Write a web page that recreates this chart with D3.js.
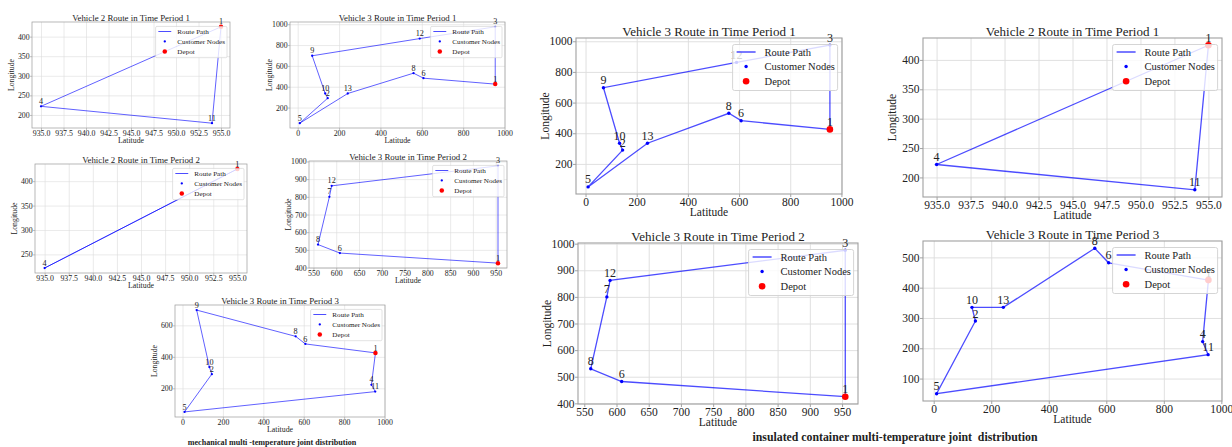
<!DOCTYPE html>
<html>
<head>
<meta charset="utf-8">
<script src="https://cdn.jsdelivr.net/npm/d3@7"></script>
<style>
body { margin: 0; background: #fff; }
svg text { font-family: "Liberation Serif", "Times New Roman", serif; fill: #222; }
</style>
</head>
<body>
<div id="chart"></div>
<script>
// customer / depot coordinates, same for every plot
var nodeIds = [1, 2, 3, 4, 5, 6, 7, 8, 9, 10, 11, 12, 13];
var nodeLat = [955, 145, 955, 935, 10, 608, 585, 560, 70, 133, 954, 590, 242];
var nodeLng = [425, 290, 975, 222, 50, 482, 800, 530, 697, 335, 179, 862, 335];
var depotId = 1;

// routes (node order)
var routeV2P1 = [1, 4, 11, 1];
var routeV3P1 = [1, 3, 12, 9, 10, 2, 5, 13, 8, 6, 1];
var routeV2P2 = [1, 4, 1];
var routeV3P2 = [1, 3, 12, 7, 8, 6, 1];
var routeV3P3mech = [1, 6, 8, 9, 10, 2, 5, 11, 4, 1];
var routeV3P3ins = [1, 6, 8, 13, 10, 2, 5, 11, 4, 1];

// tick values
var latTicksV2 = [935, 937.5, 940, 942.5, 945, 947.5, 950, 952.5, 955];
var latTicksFull = [0, 200, 400, 600, 800, 1000];
var latTicksV3P2 = [550, 600, 650, 700, 750, 800, 850, 900, 950];
var lngTicksV2P1 = [200, 250, 300, 350, 400];
var lngTicksV2P2 = [250, 300, 350, 400];
var lngTicksV3P1 = [200, 400, 600, 800, 1000];
var lngTicksV3P2 = [400, 500, 600, 700, 800, 900, 1000];
var lngTicksV3P3m = [200, 400, 600];
var lngTicksV3P3i = [100, 200, 300, 400, 500];

var legendLabels = ["Route Path", "Customer Nodes", "Depot"];
var captionLeft = "mechanical multi -temperature joint distribution";
var captionRight = "insulated container multi-temperature joint  distribution";

var width = 1232, height = 447;
var serif = '"Liberation Serif", "Times New Roman", serif';

var svg = d3.select("#chart").append("svg")
    .attr("width", width)
    .attr("height", height);

var small = 0.68;

var panels = [
  {title: "Vehicle 2 Route in Time Period 1", route: routeV2P1, xt: latTicksV2, yt: lngTicksV2P1, dec: true,  l: 32,  t: 22,  r: 230,  b: 128, k: small},
  {title: "Vehicle 3 Route in Time Period 1", route: routeV3P1, xt: latTicksFull, yt: lngTicksV3P1, dec: false, l: 290, t: 22,  r: 505,  b: 128, k: small},
  {title: "Vehicle 2 Route in Time Period 2", route: routeV2P2, xt: latTicksV2, yt: lngTicksV2P2, dec: true,  l: 35,  t: 164, r: 247,  b: 273, k: small},
  {title: "Vehicle 3 Route in Time Period 2", route: routeV3P2, xt: latTicksV3P2, yt: lngTicksV3P2, dec: false, l: 309, t: 161, r: 507,  b: 268, k: small},
  {title: "Vehicle 3 Route in Time Period 3", route: routeV3P3mech, xt: latTicksFull, yt: lngTicksV3P3m, dec: false, l: 175, t: 305, r: 385,  b: 417, k: small},
  {title: "Vehicle 3 Route in Time Period 1", route: routeV3P1, xt: latTicksFull, yt: lngTicksV3P1, dec: false, l: 576, t: 38,  r: 842,  b: 194, k: 1},
  {title: "Vehicle 2 Route in Time Period 1", route: routeV2P1, xt: latTicksV2, yt: lngTicksV2P1, dec: true,  l: 923, t: 38,  r: 1222, b: 197, k: 1},
  {title: "Vehicle 3 Route in Time Period 2", route: routeV3P2, xt: latTicksV3P2, yt: lngTicksV3P2, dec: false, l: 578, t: 243, r: 858,  b: 404, k: 1},
  {title: "Vehicle 3 Route in Time Period 3", route: routeV3P3ins, xt: latTicksFull, yt: lngTicksV3P3i, dec: false, l: 923, t: 241, r: 1222, b: 401, k: 1, clipY: true}
];

svg.append("defs").append("clipPath").attr("id", "ylabClip")
   .append("rect").attr("x", 894).attr("y", 0).attr("width", 100).attr("height", height);

function node(id) {
  var i = nodeIds.indexOf(id);
  return {id: id, lat: nodeLat[i], lng: nodeLng[i]};
}

// matplotlib-like 5% margins
function padded(vals) {
  var e = d3.extent(vals), m = (e[1] - e[0]) * 0.05;
  return [e[0] - m, e[1] + m];
}

panels.forEach(function(p) {
  var k = p.k;
  var pts = p.route.map(node);
  var x = d3.scaleLinear().domain(padded(pts.map(function(d) { return d.lat; }))).range([p.l, p.r]);
  var y = d3.scaleLinear().domain(padded(pts.map(function(d) { return d.lng; }))).range([p.b, p.t]);
  var g = svg.append("g");
  var xfmt = p.dec ? d3.format(".1f") : d3.format("d");
  var yfmt = d3.format("d");

  // grid
  g.append("g").attr("transform", "translate(0," + p.b + ")")
   .call(d3.axisBottom(x).tickValues(p.xt).tickSize(-(p.b - p.t)).tickFormat(""))
   .call(function(s) { s.select(".domain").remove(); s.selectAll("line").attr("stroke", "#dcdcdc").attr("stroke-width", 0.9 * k); });
  g.append("g").attr("transform", "translate(" + p.l + ",0)")
   .call(d3.axisLeft(y).tickValues(p.yt).tickSize(-(p.r - p.l)).tickFormat(""))
   .call(function(s) { s.select(".domain").remove(); s.selectAll("line").attr("stroke", "#dcdcdc").attr("stroke-width", 0.9 * k); });

  // axes
  var xa = g.append("g").attr("transform", "translate(0," + p.b + ")")
   .call(d3.axisBottom(x).tickValues(p.xt).tickSizeInner(3 * k).tickSizeOuter(0).tickPadding(0.5 * k).tickFormat(xfmt));
  var ya = g.append("g").attr("transform", "translate(" + p.l + ",0)")
   .call(d3.axisLeft(y).tickValues(p.yt).tickSizeInner(3 * k).tickSizeOuter(0).tickPadding(0.5 * k).tickFormat(yfmt));
  [xa, ya].forEach(function(a) {
    a.attr("font-family", serif).attr("font-size", 11.5 * k);
    a.select(".domain").remove();
    a.selectAll("line").attr("stroke", "#999").attr("stroke-width", 0.9 * k);
    a.selectAll("text").attr("fill", "#222");
  });

  g.append("rect")
   .attr("x", p.l).attr("y", p.t)
   .attr("width", p.r - p.l).attr("height", p.b - p.t)
   .attr("fill", "none").attr("stroke", "#a0a0a0").attr("stroke-width", 1.1 * k);

  // title + axis labels
  g.append("text").attr("x", (p.l + p.r) / 2).attr("y", p.t - 2 * k)
   .attr("text-anchor", "middle").attr("font-size", 13 * k).text(p.title);
  g.append("text").attr("x", (p.l + p.r) / 2).attr("y", p.b + 22 * k)
   .attr("text-anchor", "middle").attr("font-size", 11.5 * k).text("Latitude");
  var yl = g.append("text")
   .attr("transform", "translate(" + (p.l - 27 * k) + "," + ((p.t + p.b) / 2) + ") rotate(-90)")
   .attr("text-anchor", "middle").attr("font-size", 11.5 * k).text("Longitude");
  if (p.clipY) yl.attr("clip-path", "url(#ylabClip)");

  // route
  var line = d3.line().x(function(d) { return x(d.lat); }).y(function(d) { return y(d.lng); });
  g.append("path").datum(pts)
   .attr("d", line)
   .attr("fill", "none").attr("stroke", "blue").attr("stroke-opacity", 0.7)
   .attr("stroke-width", 1.3 * k);

  var uniq = [];
  pts.forEach(function(d) { if (!uniq.some(function(u) { return u.id === d.id; })) uniq.push(d); });

  g.selectAll("circle.cust")
   .data(uniq.filter(function(d) { return d.id !== depotId; }))
   .enter().append("circle").attr("class", "cust")
   .attr("cx", function(d) { return x(d.lat); })
   .attr("cy", function(d) { return y(d.lng); })
   .attr("r", 1.7 * k).attr("fill", "blue");

  g.selectAll("circle.depot")
   .data(uniq.filter(function(d) { return d.id === depotId; }))
   .enter().append("circle").attr("class", "depot")
   .attr("cx", function(d) { return x(d.lat); })
   .attr("cy", function(d) { return y(d.lng); })
   .attr("r", 3.3 * k).attr("fill", "red");

  g.selectAll("text.lab")
   .data(uniq)
   .enter().append("text").attr("class", "lab")
   .attr("x", function(d) { return x(d.lat); })
   .attr("y", function(d) { return y(d.lng) - 3.5 * k; })
   .attr("text-anchor", "middle").attr("font-size", 12 * k)
   .text(function(d) { return d.id; });

  // legend, upper right
  var lw = 105 * k, lh = 46 * k;
  var lg = g.append("g").attr("transform", "translate(" + (p.r - 4.4 * k - lw) + "," + (p.t + 6.5 * k) + ")");
  lg.append("rect").attr("width", lw).attr("height", lh).attr("rx", 2 * k)
    .attr("fill", "white").attr("fill-opacity", 0.8)
    .attr("stroke", "#d0d0d0").attr("stroke-width", 0.9 * k);
  var rowY = [7.5 * k, 22 * k, 36.8 * k];
  lg.append("line").attr("x1", 4 * k).attr("x2", 23 * k).attr("y1", rowY[0]).attr("y2", rowY[0])
    .attr("stroke", "#4d4dff").attr("stroke-width", 1.5 * k);
  lg.append("circle").attr("cx", 13.5 * k).attr("cy", rowY[1]).attr("r", 1.7 * k).attr("fill", "blue");
  lg.append("circle").attr("cx", 13.5 * k).attr("cy", rowY[2]).attr("r", 3.3 * k).attr("fill", "red");
  lg.selectAll("text").data(legendLabels).enter().append("text")
    .attr("x", 32 * k).attr("y", function(d, i) { return rowY[i] + 3.6 * k; })
    .attr("font-size", 10.5 * k).text(function(d) { return d; });
});

// captions
svg.append("text").attr("x", 272).attr("y", 444.5)
   .attr("text-anchor", "middle").attr("font-size", 8.1).attr("font-weight", "bold")
   .style("white-space", "pre").text(captionLeft);
svg.append("text").attr("x", 895).attr("y", 441)
   .attr("text-anchor", "middle").attr("font-size", 11.8).attr("font-weight", "bold")
   .style("white-space", "pre").text(captionRight);
</script>
</body>
</html>
